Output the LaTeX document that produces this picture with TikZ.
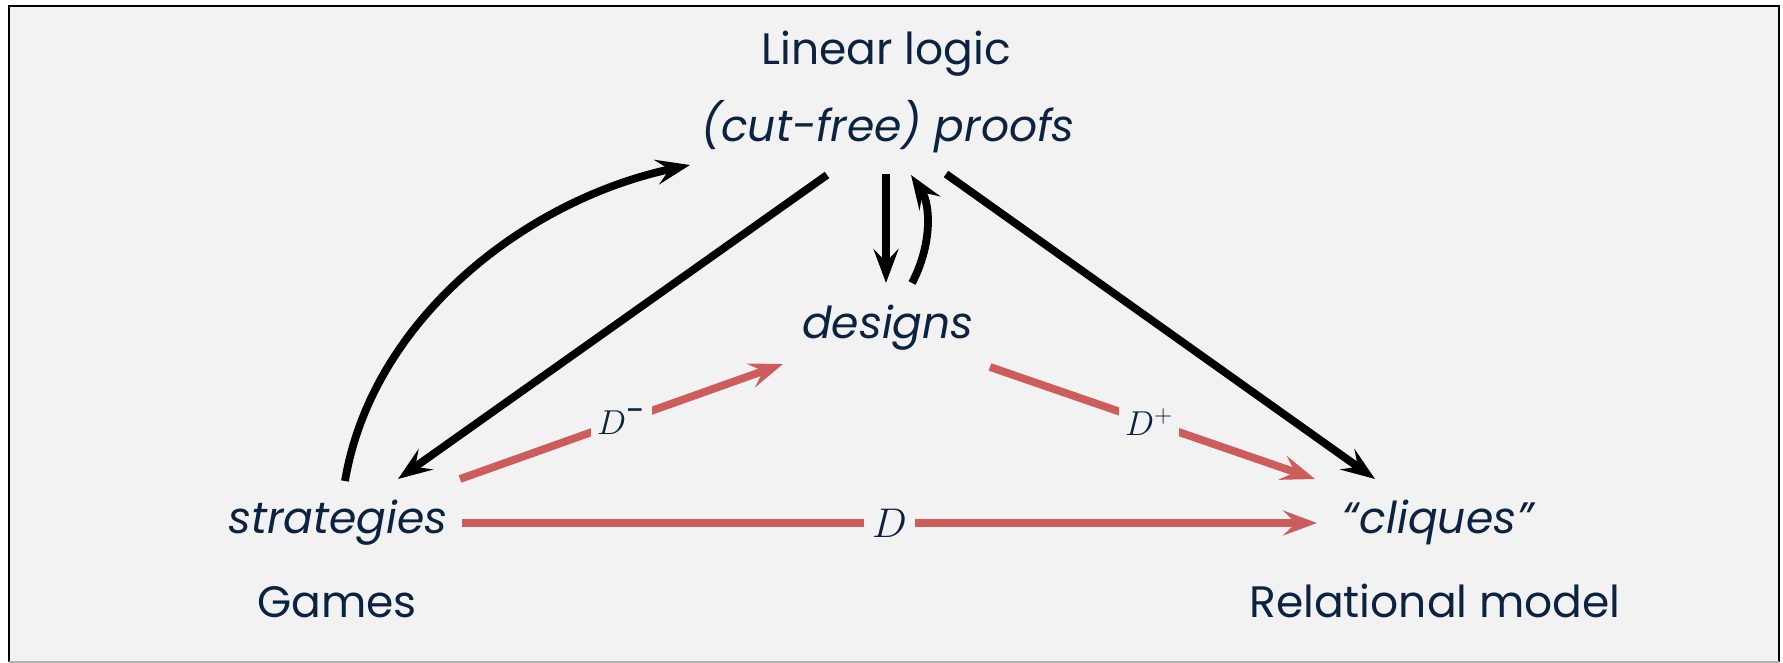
\documentclass[tikz,border=0pt]{standalone}
\usepackage{fontspec}
\setmainfont{Poppins}
\usetikzlibrary{arrows.meta}
\definecolor{bg}{HTML}{F2F2F2}
\definecolor{navy}{HTML}{0B2341}
\definecolor{redl}{HTML}{CD5C5C}
\begin{document}
\begin{tikzpicture}[x=0.5pt,y=-0.5pt,
  lbl/.style={anchor=base,inner sep=0pt,text=navy,font=\fontsize{22}{26}\selectfont},
  ilbl/.style={lbl,font=\fontsize{22}{26}\selectfont\itshape},
  blk/.style={line width=3.9pt,-{Stealth[length=17pt,width=12.5pt,inset=6.5pt]}},
  rd/.style={blk,draw=redl},
  dl/.style={fill=bg,inner sep=4pt,text=navy,font=\fontsize{22}{25}\selectfont},
  ds/.style={fill=bg,inner sep=3pt,text=navy,font=\fontsize{17}{20}\selectfont}]
\useasboundingbox (0,0) rectangle (1783,663);
\fill[white] (0,0) rectangle (1783,663);
\fill[bg] (9,6) rectangle (1779,662);
\draw[black,line width=1pt] (9,662) -- (9,6) -- (1779,6) -- (1779,662);
\draw[gray!60,line width=1pt] (9,662) -- (1779,662);
% labels
\node[lbl]  (ll)      at (886,65)  {Linear logic};
\node[ilbl] (proofs)  at (888,142) {(cut-free) proofs};
\node[ilbl] (designs) at (888,338) {designs};
\node[ilbl] (strat)   at (338,533) {strategies};
\node[ilbl] (cliq)    at (1438,533) {“cliques”};
\node[lbl]  (games)   at (337,617) {Games};
\node[lbl]  (rel)     at (1435,617) {Relational model};
% endpoints
\coordinate (sTop) at (345,481);
\coordinate (pCurve) at (690,165);
\coordinate (pL) at (827,175);
\coordinate (sTip) at (398,479);
\coordinate (pR) at (946,174);
\coordinate (cTip) at (1375,479);
\coordinate (pD) at (886,174);
\coordinate (dTip) at (886,283);
\coordinate (dUp) at (912,283);
\coordinate (pUp) at (911,175);
\coordinate (sR) at (460,479);
\coordinate (dL) at (783,364);
\coordinate (dR) at (990,367);
\coordinate (cL) at (1315,479);
\coordinate (sH) at (462,523);
\coordinate (cH) at (1317,523);
% black arrows
\draw[blk] (sTop) .. controls (372,320) and (525,200) .. (pCurve);
\draw[blk] (pL) -- (sTip);
\draw[blk] (pR) -- (cTip);
\draw[blk] (pD) -- (dTip);
\draw[blk] (dUp) .. controls (932,245) and (931,205) .. (pUp);
% red arrows
\draw[rd] (sR) -- node[ds,pos=0.5] {$D^{\textnormal{-}}$} (dL);
\draw[rd] (dR) -- node[ds,pos=0.49] {$D^{+}$} (cL);
\draw[rd] (sH) -- node[dl,pos=0.5] {$D$} (cH);
\end{tikzpicture}
\end{document}
